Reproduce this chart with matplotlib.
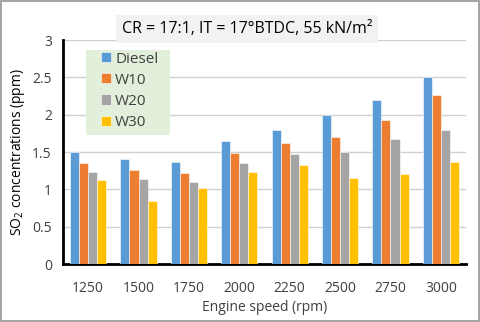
import matplotlib
matplotlib.use("Agg")
import matplotlib.pyplot as plt
from matplotlib.patches import Rectangle
import numpy as np

plt.rcParams['font.family'] = ['Open Sans', 'DejaVu Sans']
plt.rcParams['mathtext.fontset'] = 'custom'
plt.rcParams['mathtext.rm'] = 'Open Sans'
plt.rcParams['mathtext.it'] = 'Open Sans'

# data
speeds = ['1250', '1500', '1750', '2000', '2250', '2500', '2750', '3000']
diesel = [1.50, 1.40, 1.36, 1.65, 1.80, 2.00, 2.20, 2.50]
w10 = [1.35, 1.26, 1.22, 1.48, 1.62, 1.70, 1.93, 2.26]
w20 = [1.23, 1.145, 1.10, 1.35, 1.47, 1.50, 1.67, 1.79]
w30 = [1.12, 0.84, 1.02, 1.23, 1.32, 1.15, 1.20, 1.365]

series = [diesel, w10, w20, w30]
names = ['Diesel', 'W10', 'W20', 'W30']
colors = ['#5B9BD5', '#ED7D31', '#A5A5A5', '#FFC000']

fig = plt.figure(figsize=(4.8, 3.22), dpi=100)
fig.patch.set_edgecolor('#A6A6A6')
fig.patch.set_linewidth(1.5)
ax = fig.add_axes([63/480, 1-264/322, 403/480, 224/322])

x = np.arange(len(speeds))
w = 0.18
for i, (vals, name, c) in enumerate(zip(series, names, colors)):
    ax.bar(x + (i - 1.5) * w, vals, w, color=c, label=name,
           edgecolor='white', linewidth=0.4, zorder=3)

ax.set_ylim(0, 3)
ax.set_xlim(-0.5, len(speeds) - 0.5)
ax.set_yticks(np.arange(0, 3.01, 0.5))
ax.set_yticklabels(['0', '0.5', '1', '1.5', '2', '2.5', '3'])
ax.set_xticks(x)
ax.set_xticklabels(speeds)
ax.tick_params(length=0, labelsize=10, colors='#404040')
ax.tick_params(axis='x', pad=12)
ax.tick_params(axis='y', pad=8)
ax.grid(axis='y', color='#D0D0D0', linewidth=1, zorder=0)
for s in ['top', 'right']:
    ax.spines[s].set_visible(False)
ax.spines['left'].set_linewidth(2)
ax.spines['bottom'].set_linewidth(2)

ax.set_xlabel('Engine speed (rpm)', fontsize=10, color='#404040', labelpad=3)
ax.set_ylabel('SO$_2$ concentrations (ppm)', fontsize=10, color='#000000', labelpad=4)

fig.text(0.515, 1-29/322, 'CR = 17:1, IT = 17°BTDC, 55 kN/m²', ha='center', va='center',
         fontsize=11.5, color='#000000',
         bbox=dict(boxstyle='square,pad=0.35', facecolor='#F2F2F2', edgecolor='none'))

# legend background box
ax.add_patch(Rectangle((0.057, 0.576), 0.209, 0.379, transform=ax.transAxes,
                       facecolor='#E2EFDA', edgecolor='none', zorder=4))
leg = ax.legend(loc='upper left', bbox_to_anchor=(0.094, 0.948), fontsize=11,
                frameon=False, handlelength=0.65, handleheight=0.65,
                handletextpad=0.28, labelspacing=0.4, borderpad=0,
                borderaxespad=0, labelcolor='#404040')
leg.set_zorder(5)

fig.savefig('out.png', dpi=100)
